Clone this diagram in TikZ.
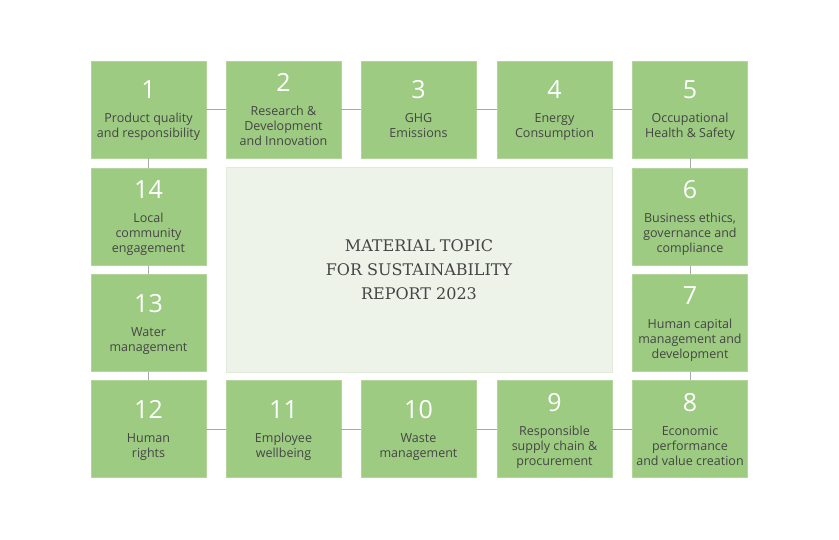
\documentclass[tikz,border=0pt]{standalone}
\usepackage{fontspec}
\setmainfont{Open Sans}
\newfontfamily\titlefont{DejaVu Serif}
\definecolor{boxgreen}{HTML}{9DCB82}
\definecolor{centerfill}{HTML}{EEF3EA}
\definecolor{centerline}{HTML}{E2EBDB}
\definecolor{txtgray}{HTML}{454545}
\definecolor{linkgray}{HTML}{A8A8A8}
\tikzset{
  topicbox/.style={draw=boxgreen!80!white, line width=0.8pt, fill=boxgreen, minimum width=115pt, minimum height=97pt, inner sep=0pt},
  numtext/.style={text=white, font=\fontsize{25}{29}\selectfont, inner sep=0pt},
  labeltext/.style={text=txtgray, font=\fontsize{12.5}{15}\selectfont, align=center, inner sep=0pt},
  centerbox/.style={draw=centerline, line width=1pt, fill=centerfill, minimum width=386pt, minimum height=205pt, inner sep=0pt},
  titletext/.style={text=txtgray, font=\titlefont\fontsize{16}{24}\selectfont, align=center, inner sep=0pt},
  link/.style={draw=linkgray, line width=0.8pt}
}
\newcommand\topic[6]{%
  \node[topicbox] (#1) at (#2,#3) {};
  \pgfmathsetmacro\nbase{#3-(42+15*(#5-1))/2+18}
  \pgfmathsetmacro\tbase{\nbase+24+15*(#5-1)}
  \node[numtext, anchor=base] (#1n) at (#2,\nbase) {#4};
  \node[labeltext, anchor=base] (#1t) at (#2,\tbase) {#6};
}
\begin{document}
\begin{tikzpicture}[x=1pt,y=-1pt]
\useasboundingbox[fill=white] (0,0) rectangle (839,540);
\node[centerbox] (center) at (419,270.5) {};
\node[titletext] (title) at (419,270) {MATERIAL TOPIC\\FOR SUSTAINABILITY\\REPORT 2023};
\topic{b1}{148.5}{109.5}{1}{2}{Product quality\\and responsibility}
\topic{b2}{283.5}{109.5}{2}{3}{Research \&\\Development\\and Innovation}
\topic{b3}{418.5}{109.5}{3}{2}{GHG\\Emissions}
\topic{b4}{554.5}{109.5}{4}{2}{Energy\\Consumption}
\topic{b5}{690}{109.5}{5}{2}{Occupational\\Health \& Safety}
\topic{b6}{690}{217}{6}{3}{Business ethics,\\governance and\\compliance}
\topic{b7}{690}{323}{7}{3}{Human capital\\management and\\development}
\topic{b8}{690}{429}{8}{3}{Economic\\performance\\and value creation}
\topic{b9}{554.5}{429}{9}{3}{Responsible\\supply chain \&\\procurement}
\topic{b10}{418.5}{429}{10}{2}{Waste\\management}
\topic{b11}{283.5}{429}{11}{2}{Employee\\wellbeing}
\topic{b12}{148.5}{429}{12}{2}{Human\\rights}
\topic{b13}{148.5}{323}{13}{2}{Water\\management}
\topic{b14}{148.5}{217}{14}{3}{Local\\community\\engagement}
\draw[link] (b1) -- (b2);
\draw[link] (b2) -- (b3);
\draw[link] (b3) -- (b4);
\draw[link] (b4) -- (b5);
\draw[link] (b5) -- (b6);
\draw[link] (b6) -- (b7);
\draw[link] (b7) -- (b8);
\draw[link] (b8) -- (b9);
\draw[link] (b9) -- (b10);
\draw[link] (b10) -- (b11);
\draw[link] (b11) -- (b12);
\draw[link] (b12) -- (b13);
\draw[link] (b13) -- (b14);
\draw[link] (b14) -- (b1);
\end{tikzpicture}
\end{document}
